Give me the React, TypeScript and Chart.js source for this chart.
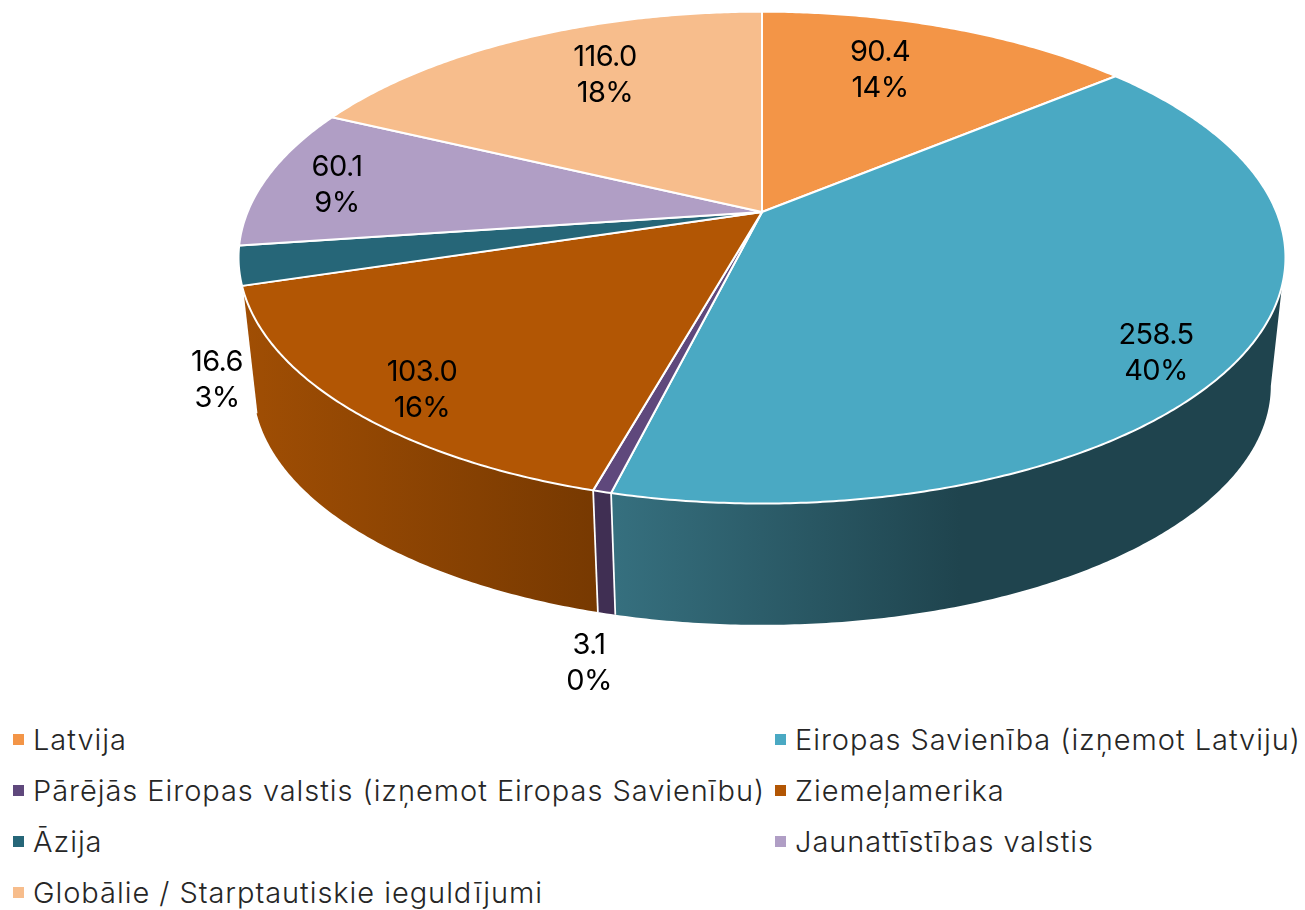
import React, { useEffect, useRef } from "react";
import { Chart, registerables } from "chart.js";

Chart.register(...registerables);

const CATEGORIES = [
  "Latvija",
  "Eiropas Savienība (izņemot Latviju)",
  "Pārējās Eiropas valstis (izņemot Eiropas Savienību)",
  "Ziemeļamerika",
  "Āzija",
  "Jaunattīstības valstis",
  "Globālie / Starptautiskie ieguldījumi",
];
const VALUES = [90.4, 258.5, 3.1, 103.0, 16.6, 60.1, 116.0];
const COLORS = ["#F39547", "#4AA9C3", "#5F487C", "#B25604", "#266678", "#B09EC5", "#F7BD8C"];
const SIDE_GRADIENTS: (null | [number, string, number, string])[] = [
  null,
  [611, "#36707F", 960, "#1F444E"],
  [593, "#402F53", 615, "#402F53"],
  [245, "#A04E04", 597, "#773901"],
  null,
  null,
  null,
];
const LABEL_OFFSETS: [number, number][] = [
  [118, -141.5],
  [394, 141.5],
  [-173, 451.5],
  [-340, 178.5],
  [-545, 168.5],
  [-425, -26.5],
  [-157, -136.5],
];

// perspective model of the tilted disc
const APEX_X = 762;
const APEX_Y = 212;
const TILT = 0.1853;
const TOP_RX = 514.4;
const TOP_RY = 237.5;
const DEPTH_SCALE = 0.972;
const BOTTOM_Y = 341.5;
const TOP_VISIBLE = [107.1, 252.9];
const BOTTOM_VISIBLE = [100.7, 259.3];
const LABEL_FONT = "400 29px Inter, sans-serif";
const LABEL_SPACING = "-0.6px";
const LABEL_LINE = 36;

const RAD = Math.PI / 180;
function project(deg: number, bottom: boolean): [number, number] {
  const X = Math.sin(deg * RAD);
  const Y = -Math.cos(deg * RAD);
  const w = 1 - TILT * Y;
  if (bottom) return [APEX_X + (DEPTH_SCALE * TOP_RX * X) / w, BOTTOM_Y + (DEPTH_SCALE * TOP_RY * Y) / w];
  return [APEX_X + (TOP_RX * X) / w, APEX_Y + (TOP_RY * Y) / w];
}
function traceArc(ctx: CanvasRenderingContext2D, a: number, b: number, bottom: boolean) {
  const n = Math.max(2, Math.ceil(Math.abs(b - a) * 2));
  for (let i = 0; i <= n; i++) {
    const [x, y] = project(a + ((b - a) * i) / n, bottom);
    ctx.lineTo(x, y);
  }
}

const pie3d = {
  id: "pie3d",
  beforeDatasetDraw() {
    return false;
  },
  afterDatasetsDraw(chart: any) {
    const ctx: CanvasRenderingContext2D = chart.ctx;
    const arcs = chart.getDatasetMeta(0).data;
    const spans = arcs.map((arc: any) => [
      arc.startAngle / RAD + 90,
      arc.endAngle / RAD + 90,
    ]);
    ctx.save();
    ctx.lineJoin = "round";

    // sides
    spans.forEach(([s, e]: number[], i: number) => {
      const grad = SIDE_GRADIENTS[i];
      const t0 = Math.max(s, TOP_VISIBLE[0]);
      const t1 = Math.min(e, TOP_VISIBLE[1]);
      if (!grad || t0 >= t1) return;
      const b0 = s <= TOP_VISIBLE[0] ? BOTTOM_VISIBLE[0] : s;
      const b1 = e >= TOP_VISIBLE[1] ? BOTTOM_VISIBLE[1] : e;
      const g = ctx.createLinearGradient(grad[0], 0, grad[2], 0);
      g.addColorStop(0, grad[1]);
      g.addColorStop(1, grad[3]);
      ctx.beginPath();
      traceArc(ctx, t0, t1, false);
      traceArc(ctx, b1, b0, true);
      ctx.closePath();
      ctx.fillStyle = g;
      ctx.fill();
    });
    // seams between sides
    spans.forEach(([s]: number[]) => {
      if (s <= TOP_VISIBLE[0] || s >= TOP_VISIBLE[1]) return;
      const a = project(s, false);
      const b = project(s, true);
      ctx.beginPath();
      ctx.moveTo(a[0], a[1]);
      ctx.lineTo(b[0], b[1]);
      ctx.strokeStyle = "#FFFFFF";
      ctx.lineWidth = 1.75;
      ctx.stroke();
    });

    // top faces
    spans.forEach(([s, e]: number[], i: number) => {
      ctx.beginPath();
      ctx.moveTo(APEX_X, APEX_Y);
      traceArc(ctx, s, e, false);
      ctx.closePath();
      ctx.fillStyle = COLORS[i];
      ctx.fill();
      ctx.strokeStyle = "#FFFFFF";
      ctx.lineWidth = 2;
      ctx.stroke();
    });

    // data labels
    const total = VALUES.reduce((a, b) => a + b, 0);
    ctx.font = LABEL_FONT;
    (ctx as any).letterSpacing = LABEL_SPACING;
    ctx.fillStyle = "#000000";
    ctx.textAlign = "center";
    ctx.textBaseline = "middle";
    VALUES.forEach((v, i) => {
      const x = APEX_X + LABEL_OFFSETS[i][0];
      const y = APEX_Y + LABEL_OFFSETS[i][1];
      ctx.fillText(v.toFixed(1), x, y - LABEL_LINE / 2);
      ctx.fillText(Math.round((v / total) * 100) + "%", x, y + LABEL_LINE / 2);
    });
    ctx.restore();
  },
};

export default function App() {
  const ref = useRef<HTMLCanvasElement>(null);
  useEffect(() => {
    const chart = new Chart(ref.current!, {
      type: "pie",
      data: {
        labels: CATEGORIES,
        datasets: [{ data: VALUES, backgroundColor: COLORS, borderColor: "#FFFFFF", borderWidth: 2 }],
      },
      options: {
        responsive: false,
        animation: false,
        plugins: { legend: { display: false }, tooltip: { enabled: false } },
      },
      plugins: [pie3d],
    } as any);
    return () => chart.destroy();
  }, []);
  return (
    <div style={{ position: "fixed", left: 0, top: 0, width: 1305, height: 910, background: "#fff", overflow: "hidden" }}>
      <canvas ref={ref} width={1305} height={714} style={{ display: "block" }} />
      <div
        style={{
          position: "absolute",
          left: 13,
          top: 714,
          display: "grid",
          gridTemplateColumns: "762px 530px",
          gridAutoRows: "51px",
          fontFamily: "Inter, sans-serif",
          fontWeight: 300,
          fontSize: 29,
          letterSpacing: "0.95px",
          color: "#262626",
        }}
      >
        {CATEGORIES.map((c, i) => (
          <div key={c} style={{ display: "flex", alignItems: "center", whiteSpace: "nowrap", height: 51 }}>
            <span style={{ width: 11, height: 11, background: COLORS[i], marginRight: 9, flex: "none" }} />
            <span>{c}</span>
          </div>
        ))}
      </div>
    </div>
  );
}
